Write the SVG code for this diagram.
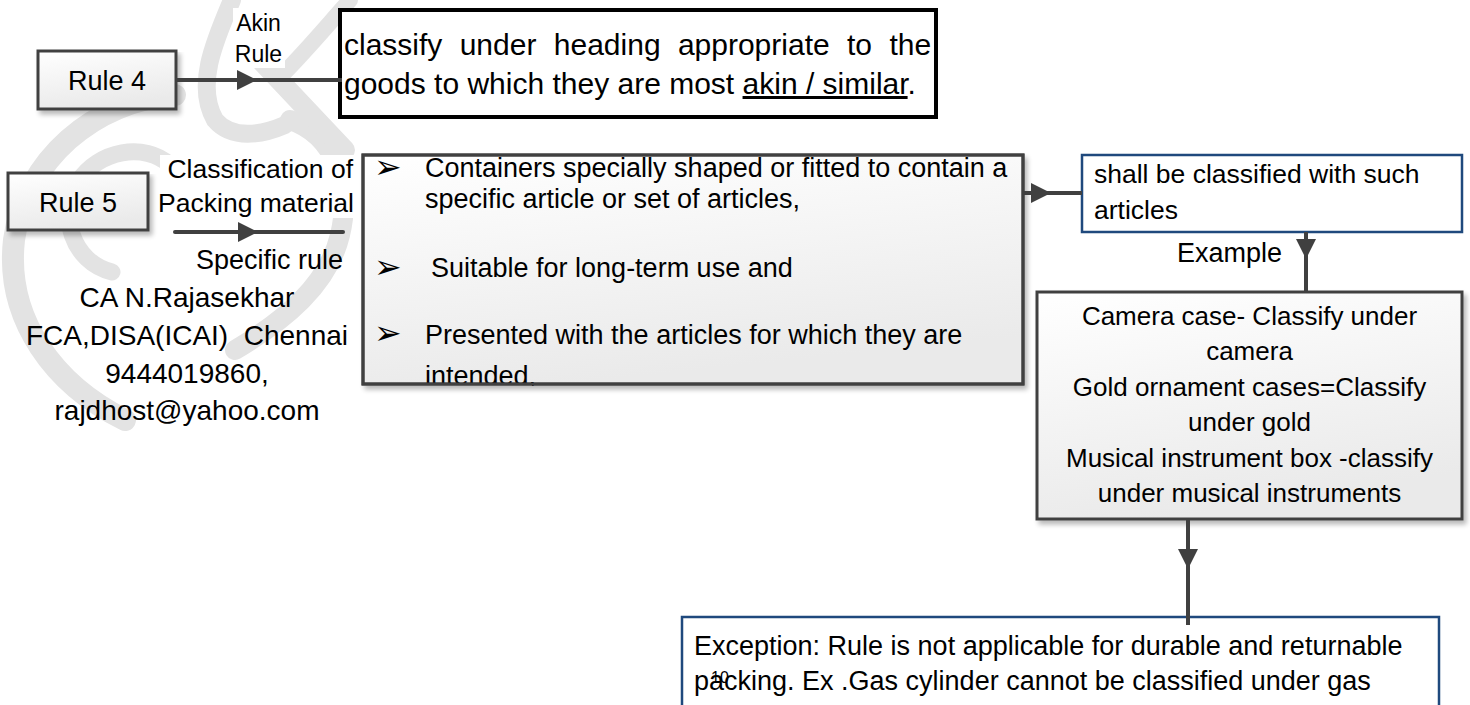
<svg xmlns="http://www.w3.org/2000/svg" width="1470" height="705" viewBox="0 0 1470 705">
  <defs>
    <style>
      .t { font-family: "Liberation Sans", Arial, sans-serif; fill: #000; }
      .bul { font-family: "DejaVu Sans", sans-serif; font-size: 33px; fill: #000; }
      .gbox { stroke: #404040; stroke-width: 3; fill: url(#softFill); }
      .bbox { stroke: #1f497d; stroke-width: 2.5; fill: #fff; }
      .kbox { stroke: #000; stroke-width: 4; fill: #fff; }
      .conn { stroke: #404040; stroke-width: 4; fill: none; }
      .head { fill: #404040; }
      .wm { stroke: #e3e3e3; fill: none; stroke-linecap: round; }
      .pad { fill: #fff; }
    </style>
    <linearGradient id="softFill" x1="0" y1="0" x2="0.3" y2="1">
      <stop offset="0" stop-color="#ffffff"/>
      <stop offset="1" stop-color="#eaeaea"/>
    </linearGradient>
    <filter id="shadow" x="-5%" y="-5%" width="115%" height="130%">
      <feGaussianBlur in="SourceAlpha" stdDeviation="2.5"/>
      <feOffset dx="3" dy="4" result="off"/>
      <feComponentTransfer><feFuncA type="linear" slope="0.28"/></feComponentTransfer>
      <feMerge><feMergeNode/><feMergeNode in="SourceGraphic"/></feMerge>
    </filter>
    <clipPath id="midClip">
      <rect x="363" y="155" width="660" height="231"/>
    </clipPath>
  </defs>

  <rect width="1470" height="705" fill="#fff"/>

  <!-- faint calligraphic logo in the background -->
  <g id="watermark" class="wm">
    <path d="M175,95 C95,100 25,160 14,240 C5,320 55,385 125,420" stroke-width="22"/>
    <path d="M112,272 C72,262 58,215 78,182 C98,150 145,142 170,165" stroke-width="17"/>
    <path d="M290,120 C335,135 352,185 340,235 C328,285 285,320 235,350" stroke-width="20"/>
    <path d="M232,0 C215,40 195,85 215,120 C232,140 262,135 285,125" stroke-width="18"/>
    <path d="M262,62 L345,150" stroke-width="20"/>
    <path d="M350,0 C325,28 305,52 282,75" stroke-width="16"/>
  </g>

  <!-- label backgrounds -->
  <rect class="pad" x="233" y="8" width="52" height="60"/>
  <rect class="pad" x="160" y="155" width="197" height="63"/>

  <!-- Rule 4 -->
  <g id="rule4">
    <rect class="gbox" x="38" y="51" width="138" height="58" filter="url(#shadow)"/>
    <text class="t" x="107" y="90" font-size="27" text-anchor="middle">Rule 4</text>
  </g>

  <!-- Akin rule statement -->
  <g id="akin-box">
    <rect class="kbox" x="340" y="10" width="596" height="107"/>
    <text class="t" y="55" font-size="30">
      <tspan x="344">classify</tspan><tspan x="459.7">under</tspan><tspan x="553.8">heading</tspan><tspan x="677.9">appropriate</tspan><tspan x="847">to</tspan><tspan x="889.4">the</tspan>
    </text>
    <text class="t" x="344" y="94" font-size="30">goods to which they are most <tspan text-decoration="underline">akin / similar</tspan>.</text>
  </g>

  <!-- Rule 5 -->
  <g id="rule5">
    <rect class="gbox" x="8" y="173" width="140" height="57" filter="url(#shadow)"/>
    <text class="t" x="78" y="212" font-size="27" text-anchor="middle">Rule 5</text>
  </g>

  <!-- Packing conditions -->
  <g id="conditions">
    <rect class="gbox" x="363" y="155" width="660" height="229" filter="url(#shadow)"/>
    <g clip-path="url(#midClip)">
      <text class="bul" x="374" y="178">➢</text>
      <text class="t" x="425" y="177" font-size="27">Containers specially shaped or fitted to contain a</text>
      <text class="t" x="425" y="208" font-size="27">specific article or set of articles,</text>
      <text class="bul" x="374" y="278">➢</text>
      <text class="t" x="431" y="277" font-size="27">Suitable for long-term use and</text>
      <text class="bul" x="374" y="344">➢</text>
      <text class="t" x="425" y="344" font-size="27">Presented with the articles for which they are</text>
      <text class="t" x="425" y="385" font-size="27">intended,</text>
    </g>
    <rect x="363" y="155" width="660" height="229" fill="none" stroke="#404040" stroke-width="3"/>
  </g>

  <!-- Result -->
  <g id="result">
    <rect class="bbox" x="1082" y="155" width="380" height="77"/>
    <text class="t" x="1094" y="183" font-size="26.5">shall be classified with such</text>
    <text class="t" x="1094" y="219" font-size="26.5">articles</text>
  </g>

  <!-- Examples -->
  <g id="examples">
    <rect class="gbox" x="1037" y="292" width="425" height="227" filter="url(#shadow)"/>
    <g class="t" font-size="26" text-anchor="middle">
      <text x="1249.5" y="325">Camera case- Classify under</text>
      <text x="1249.5" y="360">camera</text>
      <text x="1249.5" y="396">Gold ornament cases=Classify</text>
      <text x="1249.5" y="431">under gold</text>
      <text x="1249.5" y="467">Musical instrument box -classify</text>
      <text x="1249.5" y="502">under musical instruments</text>
    </g>
  </g>

  <!-- Exception -->
  <g id="exception">
    <rect class="bbox" x="682" y="617" width="757" height="100"/>
    <text class="t" x="694" y="655" font-size="27">Exception: Rule is not applicable for durable and returnable</text>
    <text class="t" x="694" y="690" font-size="27">packing. Ex .Gas cylinder cannot be classified under gas</text>
  </g>

  <!-- Connectors -->
  <g id="connectors">
    <line class="conn" x1="176" y1="80" x2="342" y2="80"/>
    <polygon class="head" points="237,70 257,80 237,90"/>

    <line class="conn" x1="175" y1="232" x2="343" y2="232" stroke-linecap="round"/>
    <polygon class="head" points="238,222 258,232 238,242"/>

    <line class="conn" x1="1022" y1="193" x2="1082" y2="193"/>
    <polygon class="head" points="1031,183 1051,193 1031,203"/>

    <line class="conn" x1="1306" y1="232" x2="1306" y2="292"/>
    <polygon class="head" points="1296,239 1316,239 1306,259"/>

    <line class="conn" x1="1188" y1="519" x2="1188" y2="625"/>
    <polygon class="head" points="1178,549 1198,549 1188,569"/>
  </g>

  <!-- Edge labels and free text -->
  <g id="labels">
    <text class="t" x="258.5" y="31" font-size="23" text-anchor="middle">Akin</text>
    <text class="t" x="258.5" y="62" font-size="23" text-anchor="middle">Rule</text>
    <text class="t" x="353" y="178" font-size="26.5" text-anchor="end">Classification of</text>
    <text class="t" x="354" y="212" font-size="26.5" text-anchor="end">Packing material</text>
    <text class="t" x="343" y="269" font-size="27" text-anchor="end">Specific rule</text>
    <text class="t" x="1177" y="262" font-size="27">Example</text>
  </g>

  <!-- Author block -->
  <g id="author" class="t" font-size="28" text-anchor="middle">
    <text x="187" y="307">CA N.Rajasekhar</text>
    <text x="187" y="345" style="white-space:pre">FCA,DISA(ICAI)  Chennai</text>
    <text x="187" y="383">9444019860,</text>
    <text x="187" y="420">rajdhost@yahoo.com</text>
  </g>

  <!-- slide number -->
  <text class="t" x="711" y="683" font-size="16">10</text>
</svg>
